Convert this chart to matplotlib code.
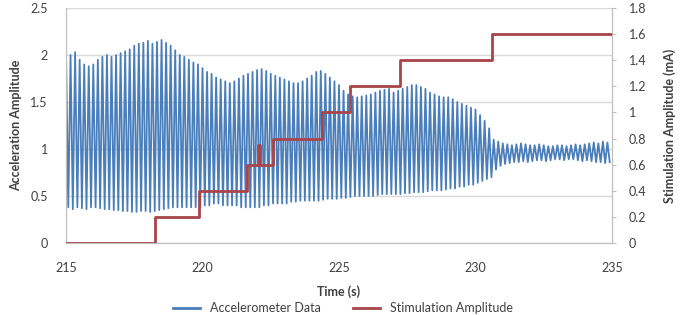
import numpy as np
import matplotlib
matplotlib.use("Agg")
import matplotlib.pyplot as plt
from matplotlib.lines import Line2D

plt.rcParams['font.family'] = ['Lato', 'DejaVu Sans']

# ---- data ----
start_time = 215.0
cycles_per_second = 6.0

# per-cycle peak values of accelerometer signal
accel_peaks = [
    2.04, 2.00, 2.03, 1.95, 1.90, 1.88,
    1.90, 1.95, 1.98, 2.00, 1.98, 2.00,
    2.02, 2.04, 2.06, 2.10, 2.12, 2.13,
    2.15, 2.12, 2.14, 2.16, 2.13, 2.10,
    2.05, 2.00, 1.98, 1.95, 1.92, 1.90,
    1.86, 1.82, 1.80, 1.76, 1.74, 1.72,
    1.70, 1.72, 1.75, 1.78, 1.80, 1.82,
    1.84, 1.85, 1.83, 1.80, 1.78, 1.76,
    1.74, 1.72, 1.70, 1.70, 1.72, 1.75,
    1.78, 1.82, 1.83, 1.80, 1.76, 1.72,
    1.68, 1.62, 1.58, 1.56, 1.55, 1.56,
    1.57, 1.58, 1.60, 1.62, 1.63, 1.64,
    1.60, 1.62, 1.64, 1.66, 1.68, 1.68,
    1.66, 1.64, 1.60, 1.58, 1.56, 1.55,
    1.55, 1.53, 1.50, 1.48, 1.46, 1.44,
    1.42, 1.36, 1.30, 1.22,
    1.10, 1.08, 1.06, 1.05, 1.04, 1.05, 1.06, 1.05, 1.04, 1.04,
    1.05, 1.04, 1.03, 1.03, 1.04, 1.04, 1.03, 1.04, 1.05, 1.04,
    1.05, 1.06, 1.07, 1.06, 1.08, 1.07,
]
# per-cycle trough values
accel_troughs = [
    0.38, 0.36, 0.38, 0.37, 0.36, 0.38,
    0.38, 0.37, 0.36, 0.36, 0.35, 0.35,
    0.34, 0.34, 0.33, 0.33, 0.34, 0.34,
    0.33, 0.34, 0.35, 0.36, 0.37, 0.38,
    0.38, 0.38, 0.38, 0.38, 0.38, 0.38,
    0.40, 0.40, 0.42, 0.42, 0.40, 0.40,
    0.40, 0.40, 0.38, 0.38, 0.38, 0.38,
    0.38, 0.40, 0.40, 0.42, 0.42, 0.42,
    0.42, 0.44, 0.44, 0.45, 0.45, 0.45,
    0.45, 0.45, 0.46, 0.47, 0.47, 0.47,
    0.48, 0.48, 0.49, 0.50, 0.50, 0.50,
    0.50, 0.50, 0.51, 0.52, 0.52, 0.52,
    0.52, 0.52, 0.53, 0.53, 0.54, 0.54,
    0.54, 0.55, 0.56, 0.56, 0.56, 0.57,
    0.58, 0.58, 0.60, 0.60, 0.62, 0.62,
    0.64, 0.66, 0.68, 0.70,
    0.78, 0.82, 0.84, 0.85, 0.86, 0.86, 0.87, 0.86, 0.87, 0.88,
    0.88, 0.87, 0.88, 0.89, 0.89, 0.88, 0.89, 0.89, 0.88, 0.87,
    0.88, 0.87, 0.86, 0.86, 0.85, 0.86,
]

# stimulation step function (mA)
stim_change_times = [215.0, 218.26, 219.87, 221.62, 222.05, 222.12, 222.58,
                     224.36, 225.40, 227.23, 230.59, 235.0]
stim_levels = [0.0, 0.2, 0.4, 0.6, 0.75, 0.6, 0.8, 1.0, 1.2, 1.4, 1.6]

x_ticks = [215, 220, 225, 230, 235]
left_ticks = [0, 0.5, 1, 1.5, 2, 2.5]
left_tick_labels = ['0', '0.5', '1', '1.5', '2', '2.5']
right_ticks = [0, 0.2, 0.4, 0.6, 0.8, 1, 1.2, 1.4, 1.6, 1.8]
right_tick_labels = ['0', '0.2', '0.4', '0.6', '0.8', '1', '1.2', '1.4', '1.6', '1.8']

# ---- build signal samples (peak then trough per cycle) ----
n = len(accel_peaks)
period = 1.0 / cycles_per_second
t_peak = start_time + np.arange(n) * period
t_trough = t_peak + period / 2
t_sig = np.empty(2 * n)
v_sig = np.empty(2 * n)
t_sig[0::2] = t_peak
t_sig[1::2] = t_trough
v_sig[0::2] = accel_peaks
v_sig[1::2] = accel_troughs

blue = '#4a7ebb'
red = '#a8444a'
txt = '#404040'
grid = '#d9d9d9'

fig = plt.figure(figsize=(6.86, 3.15), dpi=100)
ax = fig.add_axes([66/686, 1 - 243/315, (612-66)/686, (243-8)/315])
ax2 = ax.twinx()

ax.plot(t_sig, v_sig, color=blue, lw=1.3, zorder=3)
ax2.step(stim_change_times, stim_levels + [stim_levels[-1]], where='post',
         color=red, lw=2.0, zorder=4)

ax.set_xlim(215, 235)
ax.set_ylim(0, 2.5)
ax2.set_ylim(0, 1.8)
ax.set_xticks(x_ticks)
ax.set_xticklabels([str(v) for v in x_ticks])
ax.set_yticks(left_ticks)
ax.set_yticklabels(left_tick_labels)
ax2.set_yticks(right_ticks)
ax2.set_yticklabels(right_tick_labels)

ax.grid(axis='y', color=grid, lw=1.0, zorder=0)
ax.set_axisbelow(True)

for a in (ax, ax2):
    a.spines['top'].set_visible(False)
    for s in ('left', 'right', 'bottom'):
        a.spines[s].set_color('#bfbfbf')
    a.tick_params(colors='#bfbfbf', labelcolor=txt, labelsize=9)
ax.tick_params(axis='y', length=0, pad=13)
ax.tick_params(axis='x', length=0, pad=14)
ax2.tick_params(axis='y', length=3, direction='out', pad=9)

ax.set_xlabel('Time (s)', fontsize=9, fontweight='bold', color=txt, labelpad=8)
ax.set_ylabel('Acceleration Amplitude', fontsize=9, fontweight='bold', color=txt, labelpad=6)
ax2.set_ylabel('Stimulation Amplitude (mA)', fontsize=9, fontweight='bold', color=txt, labelpad=12)

handles = [Line2D([], [], color=blue, lw=2), Line2D([], [], color=red, lw=2)]
fig.legend(handles, ['Accelerometer Data', 'Stimulation Amplitude'], loc='center',
           bbox_to_anchor=(0.5, 1 - 308/315), ncol=2, frameon=False, fontsize=9,
           handlelength=2.2, columnspacing=2.5, labelcolor=txt)

fig.savefig('out.png', dpi=100)
